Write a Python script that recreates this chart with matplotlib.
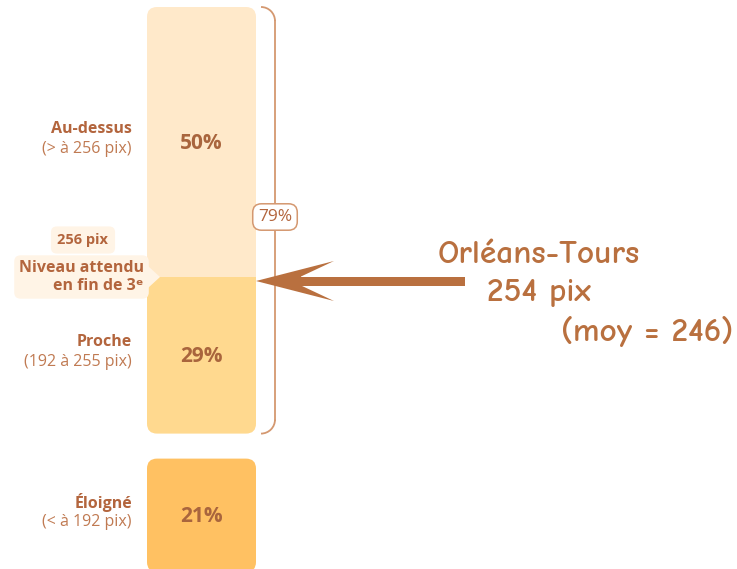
import matplotlib
matplotlib.use("Agg")
import matplotlib.pyplot as plt
from matplotlib.patches import FancyBboxPatch, Rectangle, Polygon, Arc

# ---- data ----
categories = ["Au-dessus", "Proche", "Éloigné"]
ranges = ["(> à 256 pix)", "(192 à 255 pix)", "(< à 192 pix)"]
values = [50, 29, 21]
bracket_value = 79
threshold = 256
city = "Orléans-Tours"
city_score = 254
mean_score = 246

colors = ["#FFE9CA", "#FFD98F", "#FFC162"]
brown = "#B3653D"
light_brown = "#C07A52"
bracket_col = "#D49870"
arrow_col = "#B9703F"

FONT = ["Open Sans", "DejaVu Sans"]

fig = plt.figure(figsize=(7.37, 5.69), dpi=100)
ax = fig.add_axes([0, 0, 1, 1])
ax.set_xlim(0, 737)
ax.set_ylim(569, 0)
ax.axis("off")

ppp = 5.4        # pixels per percent
top = 7
gap = 25
x0, w = 147, 109
r = 10

segs = []
y = top
for i, v in enumerate(values):
    h = v * ppp
    segs.append((y, h))
    y += h
    if i == 1:
        y += gap

for i, (y0, h) in enumerate(segs):
    ax.add_patch(FancyBboxPatch((x0 + r, y0 + r), w - 2 * r, h - 2 * r,
                                boxstyle=f"round,pad={r}", fc=colors[i], ec="none", zorder=2))
    if i == 0:
        ax.add_patch(Rectangle((x0, y0 + h - r - 2), w, r + 2, fc=colors[i], ec="none", zorder=2))
    if i == 1:
        ax.add_patch(Rectangle((x0, y0), w, r + 2, fc=colors[i], ec="none", zorder=2))
    cy = y0 + h / 2
    ax.text(x0 + w / 2, cy + 1, f"{values[i]}%", ha="center", va="center", fontsize=15,
            fontweight="bold", color="#A9653D", family=FONT, zorder=3)
    ax.text(132, cy - 13, categories[i], ha="right", va="center", fontsize=11.5,
            fontweight="bold", color=brown, family=FONT)
    ax.text(132, cy + 7, ranges[i], ha="right", va="center", fontsize=11.5,
            color=light_brown, family=FONT)

# bracket around first two segments
b_top = segs[0][0]
b_bot = segs[1][0] + segs[1][1]
bx = 275
br = 14
ax.add_patch(Arc((bx - br, b_top + br), 2 * br, 2 * br, theta1=270, theta2=360,
                 color=bracket_col, lw=1.3, zorder=2))
ax.add_patch(Arc((bx - br, b_bot - br), 2 * br, 2 * br, theta1=0, theta2=90,
                 color=bracket_col, lw=1.3, zorder=2))
ax.plot([bx, bx], [b_top + br, b_bot - br], color=bracket_col, lw=1.3, zorder=2)
ax.text(bx, 217, f"{bracket_value}%", ha="center", va="center",
        fontsize=12.5, color=brown, family=FONT, zorder=4,
        bbox=dict(boxstyle="round,pad=0.3,rounding_size=0.5", fc="white", ec=bracket_col, lw=1.1))

# threshold callout
by = segs[0][0] + segs[0][1]
cb = "#FFF4E6"
ax.text(83, 240, f"{threshold} pix", ha="center", va="center", fontsize=10.5,
        fontweight="bold", color=brown, family=FONT, zorder=5,
        bbox=dict(boxstyle="round,pad=0.45,rounding_size=0.4", fc=cb, ec="none"))
ax.add_patch(Polygon([(148, by - 11), (160, by), (148, by + 11)], closed=True,
                     fc=cb, ec="none", zorder=4))
ax.text(144, by, "Niveau attendu\nen fin de 3ᵉ", ha="right", va="center", fontsize=11.5,
        fontweight="bold", color=brown, family=FONT, zorder=5, linespacing=1.15,
        bbox=dict(boxstyle="round,pad=0.3,rounding_size=0.4", fc=cb, ec="none"))

# arrow to city score
ay = by + (threshold - city_score) * 2
tip = x0 + w
tail = 465
shaft = 4.5
head_len = 78
head_w = 20
notch = 45
ax.add_patch(Rectangle((tip + notch - 2, ay - shaft), tail - (tip + notch - 2), 2 * shaft,
                       fc=arrow_col, ec="none", zorder=3))
ax.add_patch(Polygon([(tip, ay), (tip + head_len, ay - head_w), (tip + notch, ay - shaft),
                      (tip + notch, ay + shaft), (tip + head_len, ay + head_w)],
                     closed=True, fc=arrow_col, ec="none", zorder=3))

AFONT = ["Comic Neue", "Comic Sans MS", "DejaVu Sans"]
ax.text(539, 255, city, ha="center", va="center", fontsize=24, fontweight="bold",
        color=arrow_col, family=AFONT)
ax.text(539, 293, f"{city_score} pix", ha="center", va="center", fontsize=24, fontweight="bold",
        color=arrow_col, family=AFONT)
ax.text(733, 331, f"(moy = {mean_score})", ha="right", va="center", fontsize=24, fontweight="bold",
        color=arrow_col, family=AFONT)

fig.savefig("out.png", dpi=100, facecolor="white")
